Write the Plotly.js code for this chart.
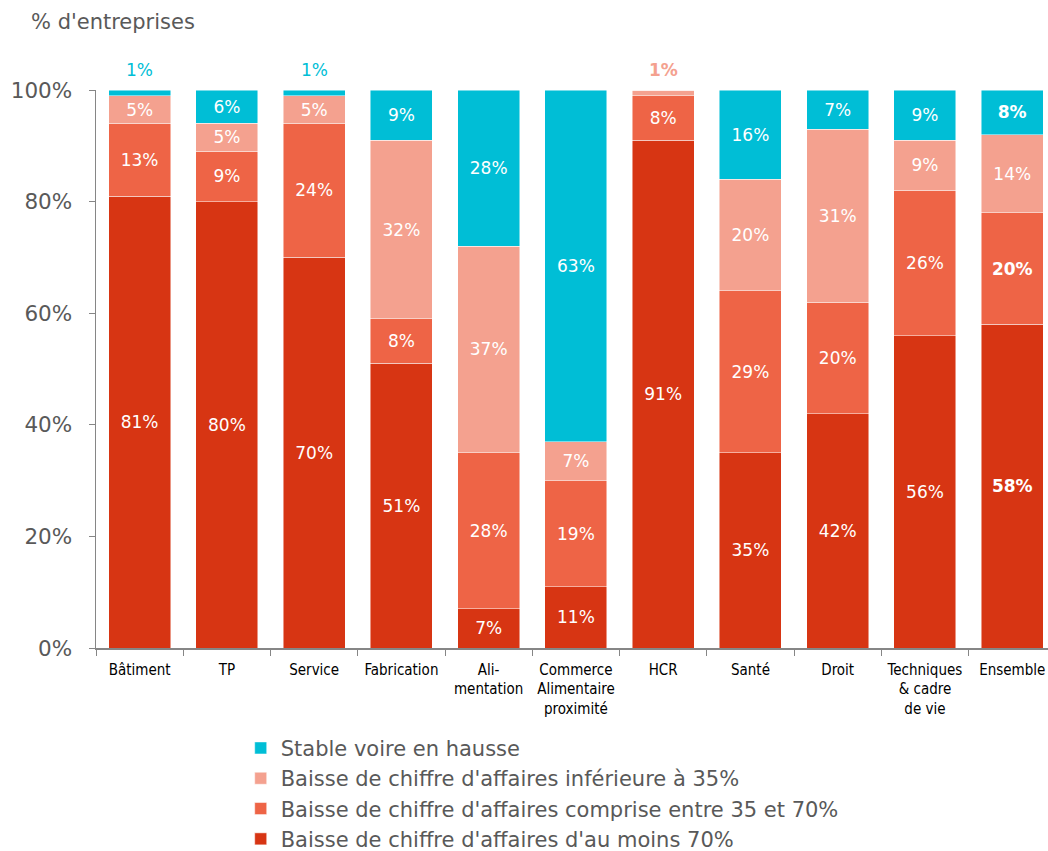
<!DOCTYPE html>
<html><head><meta charset="utf-8">
<script src="https://cdn.plot.ly/plotly-3.0.1.min.js"></script>
<style>body{margin:0;background:#fff}#chart{width:1048px;height:851px}</style>
</head><body><div id="chart"></div>
<script>
const categories = ["Bâtiment","TP","Service","Fabrication","Ali-<br>mentation","Commerce<br>Alimentaire<br>proximité","HCR","Santé","Droit","Techniques<br>& cadre<br>de vie","Ensemble"];
const seriesNames = ["Baisse de chiffre d'affaires d'au moins 70%","Baisse de chiffre d'affaires comprise entre 35 et 70%","Baisse de chiffre d'affaires inférieure à 35%","Stable voire en hausse"];
const auMoins70 = [81,80,70,51,7,11,91,35,42,56,58];
const entre35et70 = [13,9,24,8,28,19,8,29,20,26,20];
const inf35 = [5,5,5,32,37,7,1,20,31,9,14];
const stable = [1,6,1,9,28,63,0,16,7,9,8];
const colors = ["#D73513","#EE6446","#F4A18F","#00BED6"];
const allSeries = [auMoins70, entre35et70, inf35, stable];
const boldCat = "Ensemble";
const boldSeries = [true, true, false, true];

const fmt = (v,i,k) => {
  if (v <= 1) return "";
  const s = v + "%";
  return (categories[i] === boldCat && boldSeries[k]) ? "<b>" + s + "</b>" : s;
};

const traces = allSeries.map((vals, k) => ({
  type: "bar",
  name: seriesNames[k],
  x: categories,
  y: vals,
  marker: {color: colors[k], line: {color: "rgba(255,255,255,0.6)", width: 0.8}},
  text: vals.map((v,i) => fmt(v,i,k)),
  textposition: "inside",
  insidetextanchor: "middle",
  textangle: 0,
  constraintext: "none",
  textfont: {family: "DejaVu Sans", size: 17, color: "#ffffff"},
  hoverinfo: "skip"
}));

const annotations = [];
allSeries.forEach((vals, k) => {
  vals.forEach((v, i) => {
    if (v === 1) {
      annotations.push({
        x: categories[i], y: 100, xref: "x", yref: "y", yanchor: "bottom", yshift: 8,
        text: categories[i] === "HCR" ? "<b>1%</b>" : "1%",
        showarrow: false,
        font: {family: "DejaVu Sans", size: 17, color: colors[k]}
      });
    }
  });
});
annotations.push({
  x: -0.07, y: 1.121, xref: "paper", yref: "paper", xanchor: "left", yanchor: "middle",
  text: "% d'entreprises", showarrow: false,
  font: {family: "DejaVu Sans", size: 21, color: "#595959"}
});

const layout = {
  width: 1048, height: 851,
  margin: {l: 96, r: 0, t: 90, b: 203, autoexpand: false},
  barmode: "stack",
  bargap: 0.29,
  paper_bgcolor: "#fff", plot_bgcolor: "#fff",
  showlegend: true,
  legend: {
    traceorder: "reversed",
    x: 0.152, xanchor: "left", y: -0.143, yanchor: "top",
    font: {family: "DejaVu Sans", size: 21, color: "#595959"},
    itemwidth: 30, tracegroupgap: 0
  },
  xaxis: {
    type: "category",
    range: [-0.5, 10.41],
    showline: true, linecolor: "#868686", linewidth: 1.5,
    ticks: "outside", tickson: "boundaries", ticklen: 6, tickcolor: "#868686",
    ticklabelstandoff: 7, tickangle: 0,
    tickfont: {family: "DejaVu Sans Condensed", size: 15, color: "#000"},
    showgrid: false, zeroline: false, fixedrange: true, automargin: false
  },
  yaxis: {
    range: [0, 100], dtick: 20, ticksuffix: "%",
    showline: true, linecolor: "#868686", linewidth: 1.5,
    ticks: "outside", ticklen: 6, tickcolor: "#868686",
    ticklabelstandoff: 12,
    tickfont: {family: "DejaVu Sans", size: 21.5, color: "#595959"},
    showgrid: false, zeroline: false, fixedrange: true, automargin: false
  },
  annotations: annotations
};

Plotly.newPlot("chart", traces, layout, {displayModeBar: false, staticPlot: true});
</script>
</body></html>
